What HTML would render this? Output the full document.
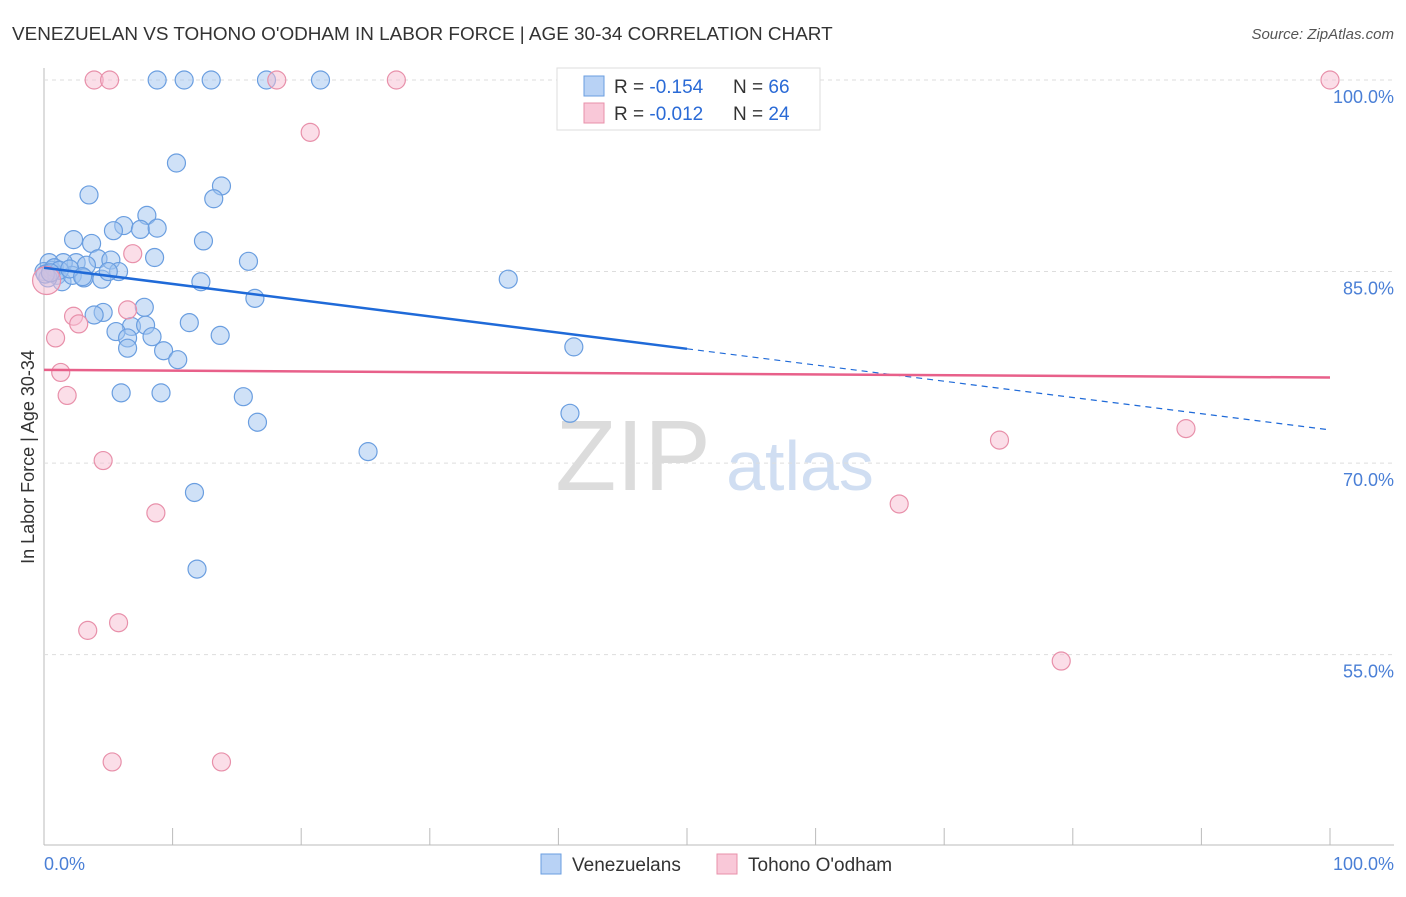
<!DOCTYPE html>
<html><head><meta charset="utf-8"><style>
body{margin:0;background:#fff;font-family:"Liberation Sans",sans-serif}
svg text{font-family:"Liberation Sans",sans-serif}
</style></head><body>
<svg id="c" width="1406" height="892">
<text x="12" y="40" font-size="18.9" fill="#333">VENEZUELAN VS TOHONO O'ODHAM IN LABOR FORCE | AGE 30-34 CORRELATION CHART</text>
<text x="1394" y="39" font-size="15" fill="#555" font-style="italic" text-anchor="end">Source: ZipAtlas.com</text>
<text x="633" y="490" font-size="100" fill="#dcdcdc" text-anchor="middle" font-family="Liberation Serif">ZIP</text>
<text x="800" y="490" font-size="70" fill="#d0def2" text-anchor="middle">atlas</text>
<g id="grid"></g><g id="marks"></g>
<text transform="translate(34,457) rotate(-90)" font-size="18" fill="#333" text-anchor="middle">In Labor Force | Age 30-34</text>
<text x="44" y="870" font-size="18" fill="#4a7fd6">0.0%</text>
<text x="1394" y="870" font-size="18" fill="#4a7fd6" text-anchor="end">100.0%</text>
<g>
<rect x="557" y="68" width="263" height="62" fill="#fff" stroke="#ddd"/>
<rect x="584" y="76" width="20" height="20" fill="#b8d2f5" stroke="#6a9ee0"/>
<rect x="584" y="103" width="20" height="20" fill="#f9c8d8" stroke="#e890aa"/>
<text x="614" y="93" font-size="19" fill="#333">R = <tspan fill="#2a6ad6">-0.154</tspan></text>
<text x="733" y="93" font-size="19" fill="#333">N = <tspan fill="#2a6ad6">66</tspan></text>
<text x="614" y="120" font-size="19" fill="#333">R = <tspan fill="#2a6ad6">-0.012</tspan></text>
<text x="733" y="120" font-size="19" fill="#333">N = <tspan fill="#2a6ad6">24</tspan></text>
</g>
<g>
<rect x="541" y="854" width="20" height="20" fill="#b8d2f5" stroke="#6a9ee0"/>
<text x="572" y="871" font-size="19" fill="#333">Venezuelans</text>
<rect x="717" y="854" width="20" height="20" fill="#f9c8d8" stroke="#e890aa"/>
<text x="748" y="871" font-size="19" fill="#333">Tohono O'odham</text>
</g>
</svg>
<script>
const yTicks=[100,85,70,55];
const xTicks=[0,10,20,30,40,50,60,70,80,90,100];
const blueX=[8.8,10.9,13.0,17.3,21.5,10.3,13.8,13.2,3.5,8.0,6.2,5.4,7.5,8.8,2.3,3.7,12.4,8.6,15.9,4.2,5.2,2.5,3.3,1.5,0.4,0.6,0.0,1.0,1.4,2.2,3.1,4.5,5.8,5.0,12.2,36.1,16.4,7.8,4.6,3.9,6.8,7.9,11.3,5.6,6.5,8.4,13.7,6.5,9.3,10.4,41.2,6.0,9.1,15.5,16.6,40.9,25.2,11.7,11.9,0.8,1.2,0.3,0.1,0.5,2.0,3.0];
const blueY=[100,100,100,100,100,93.5,91.7,90.7,91.0,89.4,88.6,88.2,88.3,88.4,87.5,87.2,87.4,86.1,85.8,86.0,85.9,85.7,85.5,85.7,85.7,85.1,85.0,84.7,84.2,84.7,84.5,84.4,85.0,85.0,84.2,84.4,82.9,82.2,81.8,81.6,80.7,80.8,81.0,80.3,79.8,79.9,80.0,79.0,78.8,78.1,79.1,75.5,75.5,75.2,73.2,73.9,70.9,67.7,61.7,85.3,85.1,84.5,84.8,84.9,85.2,84.6];
const pinkX=[3.9,5.1,18.1,27.4,100,20.7,6.9,6.5,2.3,2.7,0.9,1.3,1.8,4.6,8.7,3.4,5.8,5.3,13.8,66.5,74.3,88.8,79.1,0.2];
const pinkY=[100,100,100,100,100,95.9,86.4,82.0,81.5,80.9,79.8,77.1,75.3,70.2,66.1,56.9,57.5,46.6,46.6,66.8,71.8,72.7,54.5,84.3];
const blueTrend=[85.3,72.6];
const pinkTrend=[77.3,76.7];
const X=v=>44+v*12.86, Y=v=>80+(100-v)*12.77;
const NS='http://www.w3.org/2000/svg';
const g=document.getElementById('grid'), m=document.getElementById('marks');
function el(t,a,p){const e=document.createElementNS(NS,t);for(const k in a)e.setAttribute(k,a[k]);p.appendChild(e);return e;}
el('line',{x1:44,y1:68,x2:44,y2:845,stroke:'#bbb'},g);
el('line',{x1:44,y1:845,x2:1394,y2:845,stroke:'#bbb'},g);
yTicks.forEach(t=>{
 const l=el('line',{x1:44,y1:Y(t),x2:1394,y2:Y(t),stroke:'#ddd','stroke-dasharray':'4,4'},g);
 
 
 const tx=el('text',{x:1394,y:Y(t)+23,'font-size':18,fill:'#4a7fd6','text-anchor':'end'},g);
 tx.textContent=t.toFixed(1)+'%';
 
 
});
xTicks.forEach(t=>{
 const l=el('line',{x1:X(t),y1:828,x2:X(t),y2:845,stroke:'#bbb'},g);
 
 
});
blueX.forEach((x,i)=>{
 const c=el('circle',{cx:X(x),cy:Y(blueY[i]),r:9,fill:'rgba(160,196,240,0.5)',stroke:'#6a9ee0','stroke-width':1.2},m);
 
 
});
pinkX.forEach((x,i)=>{
 const c=el('circle',{cx:X(x),cy:Y(pinkY[i]),r:i==pinkX.length-1?14:9,fill:'rgba(248,190,210,0.5)',stroke:'#e890aa','stroke-width':1.2},m);
 
 
});
const bm=blueTrend[0]+(blueTrend[1]-blueTrend[0])*0.5;
let t1=el('line',{x1:X(0),y1:Y(blueTrend[0]),x2:X(50),y2:Y(bm),stroke:'#1f6ad8','stroke-width':2.5},m);


let t2=el('line',{x1:X(50),y1:Y(bm),x2:X(100),y2:Y(blueTrend[1]),stroke:'#1f6ad8','stroke-width':1.2,'stroke-dasharray':'6,5'},m);


let t3=el('line',{x1:X(0),y1:Y(pinkTrend[0]),x2:X(100),y2:Y(pinkTrend[1]),stroke:'#e8608a','stroke-width':2.5},m);


</script>
</body></html>
